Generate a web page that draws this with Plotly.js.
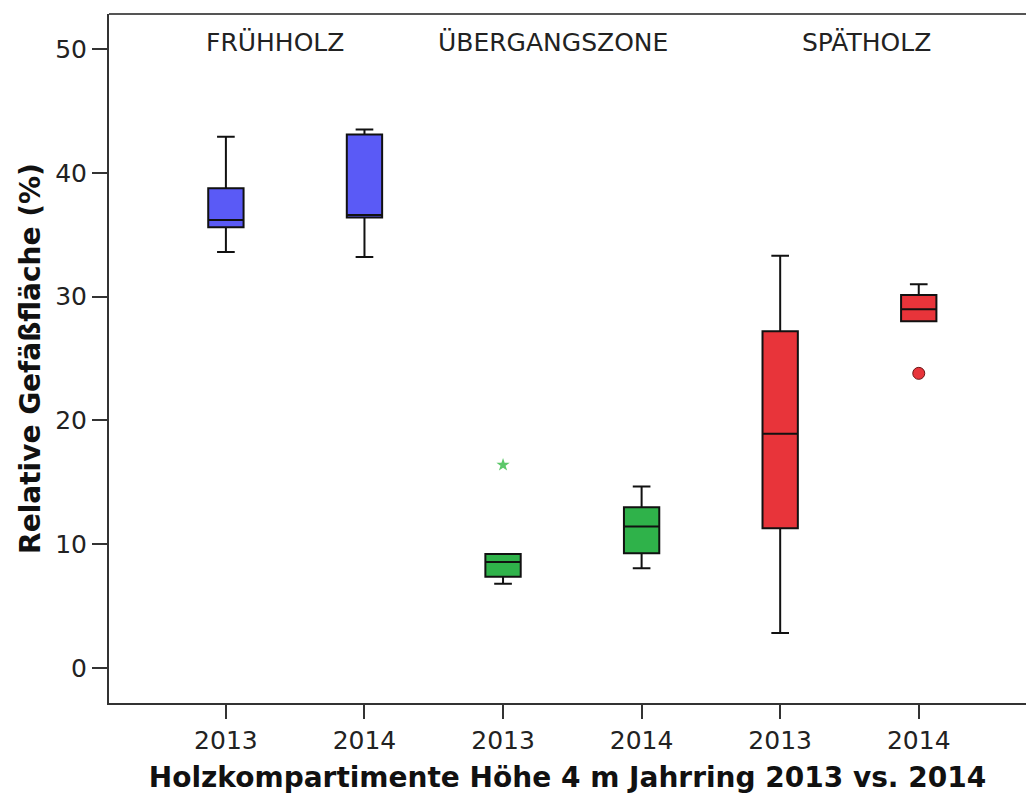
<!DOCTYPE html>
<html>
<head>
<meta charset="utf-8">
<script src="https://cdn.plot.ly/plotly-3.0.1.min.js"></script>
<style>html,body{margin:0;padding:0;background:#fff;overflow:hidden;}</style>
</head>
<body>
<div id="chart" style="width:1026px;height:800px;"></div>
<script>
// ---- data ----
const groups = ["FRÜHHOLZ", "ÜBERGANGSZONE", "SPÄTHOLZ"];
const tickLabels = ["2013", "2014", "2013", "2014", "2013", "2014"];
const positions = [0, 1, 2, 3, 4, 5];

const lowerWhisker = [33.6, 33.2, 6.8, 8.05, 2.83, 28.0];
const q1Values     = [35.6, 36.4, 7.37, 9.26, 11.28, 28.0];
const medianValues = [36.19, 36.6, 8.56, 11.42, 18.93, 28.97];
const q3Values     = [38.76, 43.1, 9.2, 12.98, 27.2, 30.13];
const upperWhisker = [42.92, 43.5, 9.2, 14.66, 33.3, 31.0];

const extremeX = [2];      // star marker (extreme value)
const extremeY = [16.4];
const outlierX = [5];      // circle marker (outlier)
const outlierY = [23.8];

const groupColors = ["#5a5af6", "#2fb24a", "#e8343a"];

// ---- traces ----
const traces = [];
groups.forEach((g, gi) => {
  const idx = [2 * gi, 2 * gi + 1];
  traces.push({
    type: "box",
    name: g,
    x: idx.map(i => positions[i]),
    q1: idx.map(i => q1Values[i]),
    median: idx.map(i => medianValues[i]),
    q3: idx.map(i => q3Values[i]),
    lowerfence: idx.map(i => lowerWhisker[i]),
    upperfence: idx.map(i => upperWhisker[i]),
    boxpoints: false,
    width: 0.255,
    whiskerwidth: 0.5,
    fillcolor: groupColors[gi],
    line: { color: "#111111", width: 2 },
    showlegend: false,
    hoverinfo: "skip"
  });
});
traces.push({
  type: "scatter", mode: "markers",
  x: extremeX, y: extremeY,
  marker: { symbol: "star", size: 10, color: "#5cc86a", line: { width: 0 } },
  showlegend: false, hoverinfo: "skip"
});
traces.push({
  type: "scatter", mode: "markers",
  x: outlierX, y: outlierY,
  marker: { symbol: "circle", size: 12, color: "#e8343a", line: { color: "#6b1515", width: 1 } },
  showlegend: false, hoverinfo: "skip"
});

const groupLabelX = [0.354, 2.363, 4.625];
const annotations = groups.map((g, gi) => ({
  text: g, x: groupLabelX[gi], xref: "x", y: 0.959, yref: "paper",
  showarrow: false, xanchor: "center", yanchor: "middle",
  font: { family: "DejaVu Sans, sans-serif", size: 25, color: "#222" }
}));

const layout = {
  width: 1026, height: 800,
  margin: { l: 109, r: 0, t: 14, b: 97, pad: 0 },
  paper_bgcolor: "#fff", plot_bgcolor: "#fff",
  font: { family: "DejaVu Sans, sans-serif", color: "#222" },
  xaxis: {
    range: [-0.8436, 5.774],
    tickvals: positions, ticktext: tickLabels,
    showgrid: false, zeroline: false,
    showline: true, linecolor: "#333", linewidth: 2, mirror: false,
    ticks: "outside", ticklen: 14, tickwidth: 2, tickcolor: "#333",
    tickfont: { size: 25, color: "#222" },
    title: { text: "Holzkompartimente Höhe 4 m Jahrring 2013 vs. 2014",
             font: { size: 28, color: "#111", weight: "bold" }, standoff: 13 }
  },
  yaxis: {
    range: [-2.83, 52.83],
    tickvals: [0, 10, 20, 30, 40, 50],
    showgrid: false, zeroline: false,
    showline: true, linecolor: "#333", linewidth: 2, mirror: false,
    ticks: "outside", ticklen: 15, tickwidth: 2, tickcolor: "#333",
    tickfont: { size: 25, color: "#222" },
    title: { text: "Relative Gefäßfläche (%)",
             font: { size: 28, color: "#111", weight: "bold" }, standoff: 6 }
  },
  shapes: [{
    type: "line", xref: "paper", yref: "paper", x0: 0, x1: 1, y0: 1, y1: 1,
    line: { color: "#555", width: 2 }
  }],
  annotations: annotations
};

Plotly.newPlot("chart", traces, layout, { displayModeBar: false, staticPlot: true });
</script>
</body>
</html>
